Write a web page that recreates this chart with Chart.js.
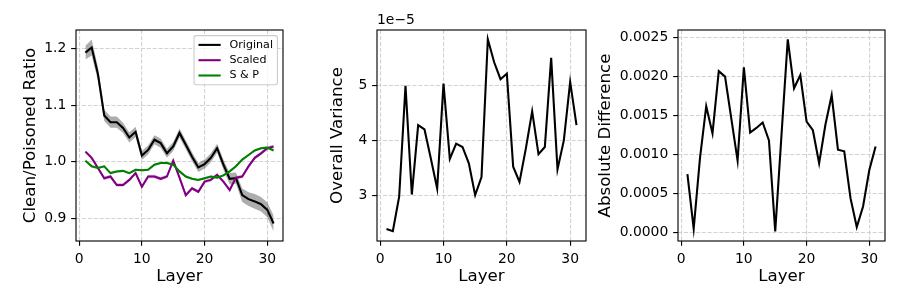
<!DOCTYPE html>
<html><head><meta charset="utf-8">
<script src="https://cdn.jsdelivr.net/npm/chart.js@4.4.0/dist/chart.umd.min.js"></script>
<style>
html,body{margin:0;padding:0;background:#fff;width:900px;height:300px;overflow:hidden}
canvas{position:absolute;top:0}
</style></head><body>
<canvas id="c1" width="300" height="300" style="left:0px"></canvas>
<canvas id="c2" width="300" height="300" style="left:300px"></canvas>
<canvas id="c3" width="310" height="300" style="left:590px"></canvas>
<script>
// ---------------- data ----------------
const layers = [1,2,3,4,5,6,7,8,9,10,11,12,13,14,15,16,17,18,19,20,21,22,23,24,25,26,27,28,29,30,31];
const seriesNames = ['Original', 'Scaled', 'S & P'];
const original = [1.193,1.202,1.155,1.082,1.070,1.070,1.060,1.043,1.053,1.011,1.021,1.039,1.033,1.015,1.027,1.051,1.030,1.009,0.990,0.996,1.007,1.024,0.995,0.970,0.971,0.941,0.934,0.930,0.925,0.915,0.891];
const originalErr = [0.012,0.014,0.012,0.010,0.010,0.010,0.009,0.009,0.009,0.008,0.008,0.008,0.008,0.008,0.008,0.008,0.008,0.008,0.008,0.008,0.008,0.008,0.009,0.010,0.010,0.012,0.012,0.013,0.013,0.013,0.014];
const scaled = [1.018,1.007,0.989,0.971,0.974,0.959,0.959,0.968,0.980,0.956,0.974,0.974,0.970,0.974,1.002,0.972,0.941,0.953,0.947,0.965,0.968,0.977,0.965,0.950,0.972,0.974,0.992,1.007,1.015,1.024,1.027];
const scaledErr = [0.003,0.003,0.003,0.003,0.003,0.003,0.003,0.003,0.003,0.003,0.003,0.003,0.003,0.003,0.003,0.003,0.003,0.003,0.003,0.003,0.003,0.003,0.003,0.003,0.003,0.003,0.003,0.003,0.003,0.003,0.003];
const saltPepper = [1.002,0.992,0.989,0.992,0.980,0.983,0.984,0.980,0.986,0.985,0.986,0.995,0.998,0.998,0.995,0.983,0.974,0.970,0.968,0.971,0.974,0.972,0.976,0.983,0.992,1.004,1.012,1.020,1.024,1.025,1.020];
const saltPepperErr = [0.002,0.002,0.002,0.002,0.002,0.002,0.002,0.002,0.002,0.002,0.002,0.002,0.002,0.002,0.002,0.002,0.002,0.002,0.002,0.002,0.002,0.002,0.002,0.002,0.002,0.002,0.002,0.002,0.002,0.002,0.002];
const overallVariance = [2.38e-5,2.34e-5,2.97e-5,5.00e-5,3.01e-5,4.28e-5,4.20e-5,3.67e-5,3.12e-5,5.04e-5,3.66e-5,3.94e-5,3.88e-5,3.58e-5,3.00e-5,3.33e-5,5.85e-5,5.43e-5,5.12e-5,5.22e-5,3.52e-5,3.24e-5,3.85e-5,4.53e-5,3.75e-5,3.88e-5,5.51e-5,3.47e-5,4.00e-5,5.07e-5,4.28e-5];
const absoluteDifference = [0.000744,0.000043,0.000949,0.00162,0.00127,0.00207,0.00200,0.00146,0.000919,0.00212,0.00128,0.00134,0.00141,0.00118,0.0000085,0.00125,0.00248,0.00185,0.00202,0.00142,0.00131,0.000885,0.00138,0.00176,0.00106,0.00104,0.000436,0.0000641,0.000329,0.000799,0.00110];
const xTicks = [0, 10, 20, 30];
const ratioTicks = [0.9, 1.0, 1.1, 1.2];
const varianceTicks = [3e-5, 4e-5, 5e-5];
const diffTicks = [0, 0.0005, 0.0010, 0.0015, 0.0020, 0.0025];

// ---------------- styling ----------------
const FONT = "'DejaVu Sans', sans-serif";
Chart.defaults.font.family = FONT;
Chart.defaults.color = '#000';
Chart.defaults.animation = false;
Chart.defaults.events = [];
Chart.defaults.plugins.legend.display = false;
Chart.defaults.plugins.tooltip.enabled = false;
const TICK_FS = 13.9, LABEL_FS = 16.67;
const LW = 2.08, SPINE = 1.11, TLEN = 4.86, TPAD = 4.86;
const GRID = { color: '#d2d2d2', lineWidth: 1.11, tickLength: TLEN, tickColor: '#000', tickWidth: SPINE, tickBorderDash: [] };
const DASH = { display: false, dash: [4.1, 1.8] };

function pts(ys) { return layers.map((x, i) => ({ x: x, y: ys[i] })); }
function band(ys, err, sign) { return layers.map((x, i) => ({ x: x, y: ys[i] + sign * err[i] })); }

const framePlugin = {
  id: 'frame',
  afterDraw(chart) {
    const { ctx, chartArea: a } = chart;
    ctx.save(); ctx.strokeStyle = '#000'; ctx.lineWidth = SPINE;
    ctx.strokeRect(a.left, a.top, a.right - a.left, a.bottom - a.top);
    ctx.restore();
  }
};

function xScale() {
  return {
    type: 'linear', min: -0.5, max: 32.5,
    afterBuildTicks: s => { s.ticks = xTicks.map(v => ({ value: v })); },
    afterFit: s => { s.height = 59; },
    ticks: { font: { size: TICK_FS }, padding: TPAD, maxRotation: 0, autoSkip: false, callback: v => String(v) },
    grid: GRID, border: DASH,
    title: { display: true, text: 'Layer', font: { size: LABEL_FS }, padding: { top: 0, bottom: 13 } }
  };
}
function yScale(min, max, tickArr, fmt, width, title, tpad) {
  return {
    type: 'linear', min: min, max: max,
    afterBuildTicks: s => { s.ticks = tickArr.map(v => ({ value: v })); },
    afterFit: s => { s.width = width; },
    ticks: { font: { size: TICK_FS }, padding: TPAD, autoSkip: false, callback: fmt },
    grid: GRID, border: DASH,
    title: { display: true, text: title, font: { size: LABEL_FS }, padding: { top: tpad, bottom: 0 } }
  };
}
function lineDs(label, data, color, order) {
  return { label: label, data: pts(data), borderColor: color, borderWidth: LW, pointRadius: 0, tension: 0, fill: false, order: order };
}
function bandDs(data, err, fillColor, order) {
  return [
    { data: band(data, err, 1), borderColor: 'rgba(0,0,0,0)', borderWidth: 0, pointRadius: 0, fill: false, order: order },
    { data: band(data, err, -1), borderColor: 'rgba(0,0,0,0)', borderWidth: 0, pointRadius: 0, fill: '-1', backgroundColor: fillColor, order: order }
  ];
}

const seriesColors = ['#000000', '#800080', '#008000'];
const innerLegend = {
  id: 'innerLegend',
  afterDraw(chart) {
    const { ctx, chartArea: a } = chart;
    const fs = 11.1;
    ctx.save();
    ctx.font = fs + 'px ' + FONT;
    let tw = 0; seriesNames.forEach(n => { tw = Math.max(tw, ctx.measureText(n).width); });
    const pad = 0.4 * fs, hl = 2 * fs, gap = 0.8 * fs, rowH = 15.3;
    const w = pad + hl + gap + tw + pad;
    const h = 9.3 * 2 + rowH * 2;
    const right = a.right - 5.6, top = a.top + 5.6, left = right - w;
    ctx.beginPath();
    if (ctx.roundRect) ctx.roundRect(left, top, w, h, 2.2); else ctx.rect(left, top, w, h);
    ctx.fillStyle = 'rgba(255,255,255,0.8)'; ctx.fill();
    ctx.strokeStyle = '#cccccc'; ctx.lineWidth = 1.11; ctx.stroke();
    seriesNames.forEach((n, i) => {
      const cy = top + 9.3 + i * rowH;
      ctx.beginPath(); ctx.moveTo(left + pad, cy); ctx.lineTo(left + pad + hl, cy);
      ctx.strokeStyle = seriesColors[i]; ctx.lineWidth = LW; ctx.stroke();
      ctx.fillStyle = '#000'; ctx.textBaseline = 'middle'; ctx.textAlign = 'left';
      ctx.fillText(n, left + pad + hl + gap, cy);
    });
    ctx.restore();
  }
};

const offsetText = {
  id: 'offsetText',
  afterDraw(chart) {
    const { ctx, chartArea: a } = chart;
    ctx.save(); ctx.font = TICK_FS + 'px ' + FONT; ctx.fillStyle = '#000';
    ctx.textAlign = 'left'; ctx.textBaseline = 'bottom';
    ctx.fillText('1e\u22125', a.left, a.top - 3);
    ctx.restore();
  }
};

// ---------------- panel 1 ----------------
new Chart(document.getElementById('c1'), {
  type: 'line',
  data: { datasets: [
    ...bandDs(original, originalErr, 'rgba(0,0,0,0.32)', 6),
    lineDs(seriesNames[0], original, seriesColors[0], 5),
    ...bandDs(scaled, scaledErr, 'rgba(128,0,128,0.3)', 4),
    lineDs(seriesNames[1], scaled, seriesColors[1], 3),
    ...bandDs(saltPepper, saltPepperErr, 'rgba(0,128,0,0.3)', 2),
    lineDs(seriesNames[2], saltPepper, seriesColors[2], 1)
  ] },
  options: {
    responsive: false, animation: false,
    layout: { padding: { top: 30, right: 17, left: 0, bottom: 0 } },
    scales: {
      x: xScale(),
      y: yScale(0.860, 1.233, ratioTicks, v => v.toFixed(1), 76, 'Clean/Poisoned Ratio', 21)
    }
  },
  plugins: [framePlugin, innerLegend]
});

// ---------------- panel 2 ----------------
new Chart(document.getElementById('c2'), {
  type: 'line',
  data: { datasets: [ lineDs('variance', overallVariance, '#000000', 1) ] },
  options: {
    responsive: false, animation: false,
    layout: { padding: { top: 30, right: 14, left: 0, bottom: 0 } },
    scales: {
      x: xScale(),
      y: yScale(2.16e-5, 6.02e-5, varianceTicks, v => String(Math.round(v / 1e-5)), 77, 'Overall Variance', 28)
    }
  },
  plugins: [framePlugin, offsetText]
});

// ---------------- panel 3 ----------------
new Chart(document.getElementById('c3'), {
  type: 'line',
  data: { datasets: [ lineDs('diff', absoluteDifference, '#000000', 1) ] },
  options: {
    responsive: false, animation: false,
    layout: { padding: { top: 30, right: 15, left: 0, bottom: 0 } },
    scales: {
      x: xScale(),
      y: yScale(-0.000115, 0.0026, diffTicks, v => v.toFixed(4), 88, 'Absolute Difference', 6)
    }
  },
  plugins: [framePlugin]
});
</script>
</body></html>
